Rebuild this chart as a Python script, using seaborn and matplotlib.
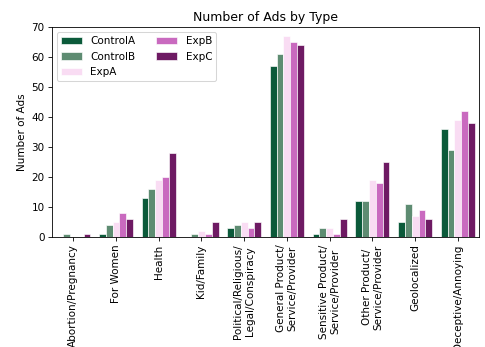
import pandas as pd
import matplotlib
matplotlib.use("Agg")
import matplotlib.pyplot as plt
import seaborn as sns

categories = ["Abortion/Pregnancy", "For Women", "Health", "Kid/Family",
              "Political/Religious/\nLegal/Conspiracy",
              "General Product/\nService/Provider",
              "Sensitive Product/\nService/Provider",
              "Other Product/\nService/Provider",
              "Geolocalized", "Deceptive/Annoying"]
groups = ["ControlA", "ControlB", "ExpA", "ExpB", "ExpC"]
control_a = [0, 1, 13, 0, 3, 57, 1, 12, 5, 36]
control_b = [1, 4, 16, 1, 4, 61, 3, 12, 11, 29]
exp_a = [0, 5, 19, 2, 5, 67, 3, 19, 7, 39]
exp_b = [0, 8, 20, 1, 3, 65, 1, 18, 9, 42]
exp_c = [1, 6, 28, 5, 5, 64, 6, 25, 6, 38]
colors = ["#0b5a3a", "#5e8c72", "#f9dcf3", "#c96abf", "#6e1a63"]

rows = []
for g, vals in zip(groups, [control_a, control_b, exp_a, exp_b, exp_c]):
    for c, v in zip(categories, vals):
        rows.append({"Type": c, "Group": g, "Count": v})
df = pd.DataFrame(rows)

# drawn at 75 dpi so default sizes come out like the reference
fig, ax = plt.subplots(figsize=(485 / 75, 347 / 75), dpi=75)
sns.barplot(data=df, x="Type", y="Count", hue="Group", palette=colors,
            saturation=1, edgecolor="white", linewidth=0.6, ax=ax)
ax.set_title("Number of Ads by Type")
ax.set_xlabel("")
ax.set_ylabel("Number of Ads")
ax.set_ylim(0, 70)
ax.tick_params(axis="x", rotation=90)
ax.legend(loc="upper left", ncol=2, title=None)
fig.subplots_adjust(left=0.107, right=0.988, top=0.922, bottom=0.317)
fig.savefig("out.png", dpi=75)
